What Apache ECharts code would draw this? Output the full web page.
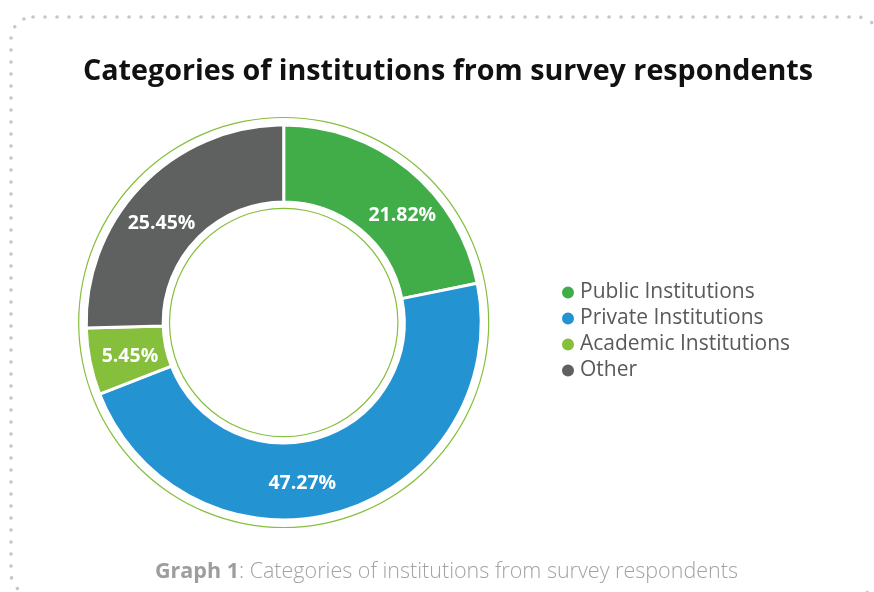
<!DOCTYPE html>
<html>
<head>
<meta charset="utf-8">
<script src="https://cdn.jsdelivr.net/npm/echarts@6/dist/echarts.min.js"></script>
<style>
  html, body { margin: 0; padding: 0; background: #ffffff; }
  #chart { width: 874px; height: 592px; }
</style>
</head>
<body>
<div id="chart"></div>
<script>
// Survey respondents by institution category (percent of respondents)
const categories = ['Public Institutions', 'Private Institutions', 'Academic Institutions', 'Other'];
const shares = [21.82, 47.27, 5.45, 25.45];
const sliceColors = ['#41ad49', '#2393d1', '#86bf3c', '#5f6060'];

const titleText = 'Categories of institutions from survey respondents';
const captionLead = 'Graph 1';
const captionRest = ': Categories of institutions from survey respondents';

const FONT = '"Open Sans", "Noto Sans", sans-serif';
const CENTER = ['283.7', '322.5'];
const ringColor = '#86bf3c';

// nudges for the in-ring value labels, in slice order
const labelNudge = [[16, 18], [-27, 5], [5, 2], [-6, 14]];

const chart = echarts.init(document.getElementById('chart'), null, { renderer: 'canvas' });

chart.setOption({
  animation: false,
  backgroundColor: '#ffffff',
  title: {
    text: titleText,
    left: 78,
    top: 52,
    textStyle: { fontFamily: FONT, fontWeight: 'bold', fontSize: 28.7, color: '#111111' }
  },
  legend: {
    data: categories,
    orient: 'vertical',
    left: 555,
    top: 277,
    icon: 'circle',
    itemWidth: 14,
    itemHeight: 14,
    itemGap: 5,
    selectedMode: false,
    textStyle: { fontFamily: FONT, fontSize: 21, lineHeight: 20, color: '#595959' }
  },
  graphic: [
    {
      type: 'rect',
      silent: true,
      shape: { x: 11, y: 17, width: 868, height: 578, r: 22 },
      style: { fill: 'none', stroke: '#c6c6c6', lineWidth: 3.6, lineDash: [0, 12], lineCap: 'round' }
    },
    {
      type: 'text',
      left: 155,
      top: 561,
      silent: true,
      style: {
        text: '{b|' + captionLead + '}{r|' + captionRest + '}',
        rich: {
          b: { fontFamily: FONT, fontWeight: 'bold', fontSize: 21.5, fill: '#9d9d9d' },
          r: { fontFamily: FONT, fontWeight: 300, fontSize: 21.5, fill: '#a3a3a3' }
        }
      }
    }
  ],
  series: [
    {
      name: 'Institutions',
      type: 'pie',
      center: CENTER,
      radius: [120.5, 197.5],
      startAngle: 90,
      clockwise: true,
      silent: true,
      itemStyle: { borderColor: '#ffffff', borderWidth: 3 },
      label: {
        show: true,
        position: 'inside',
        formatter: p => p.value.toFixed(2) + '%',
        fontFamily: FONT,
        fontWeight: 'bold',
        fontSize: 19.5,
        color: '#ffffff'
      },
      labelLine: { show: false },
      data: categories.map((name, i) => ({
        name: name,
        value: shares[i],
        itemStyle: { color: sliceColors[i] },
        label: { offset: labelNudge[i] }
      }))
    },
    {
      name: 'inner ring',
      type: 'pie',
      center: CENTER,
      radius: [113.6, 114.8],
      silent: true,
      label: { show: false },
      labelLine: { show: false },
      itemStyle: { color: ringColor },
      data: [{ value: 1, name: 'inner ring' }]
    },
    {
      name: 'outer ring',
      type: 'pie',
      center: CENTER,
      radius: [204.4, 205.6],
      silent: true,
      label: { show: false },
      labelLine: { show: false },
      itemStyle: { color: ringColor },
      data: [{ value: 1, name: 'outer ring' }]
    }
  ]
});
</script>
</body>
</html>
